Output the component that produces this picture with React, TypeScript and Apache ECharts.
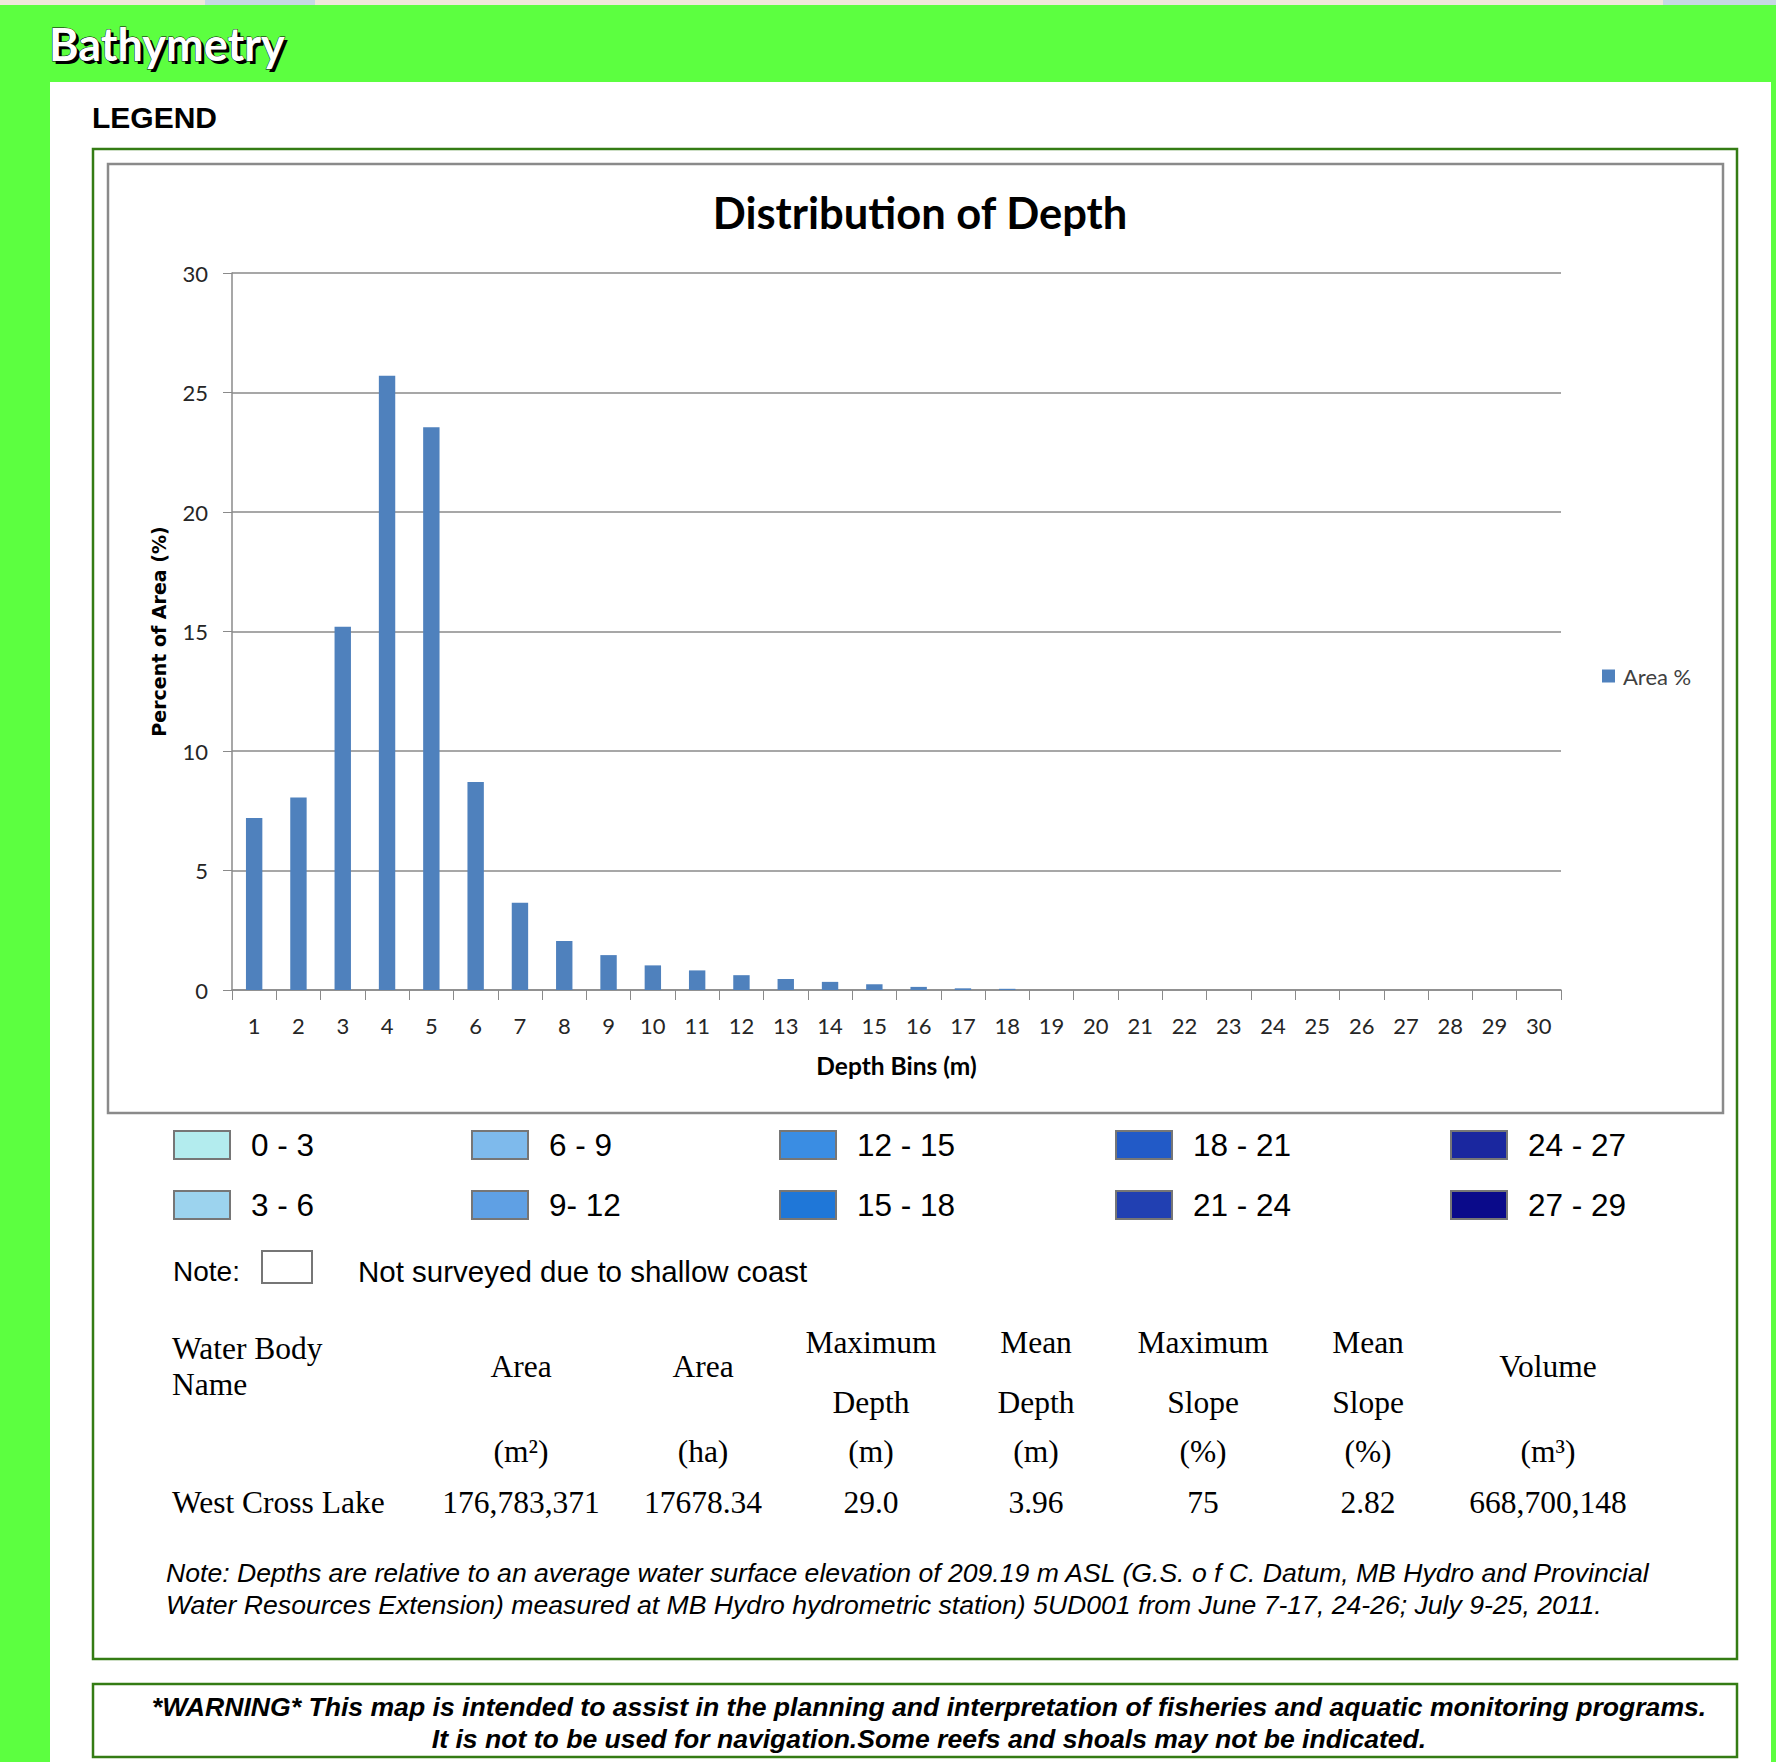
import React, { useEffect, useRef } from "react";
import * as echarts from "echarts";

// ---------- data ----------
const depthBins = ["1","2","3","4","5","6","7","8","9","10","11","12","13","14","15","16","17","18","19","20","21","22","23","24","25","26","27","28","29","30"];
const areaPercent = [7.2, 8.05, 15.2, 25.7, 23.55, 8.7, 3.65, 2.05, 1.46, 1.03, 0.82, 0.62, 0.46, 0.34, 0.24, 0.13, 0.07, 0.05, 0, 0, 0, 0, 0, 0, 0, 0, 0, 0, 0, 0];
const yMin = 0;
const yMax = 30;
const yStep = 5;

const rangeLabels = ["0 - 3", "3 - 6", "6 - 9", "9- 12", "12 - 15", "15 - 18", "18 - 21", "21 - 24", "24 - 27", "27 - 29"];
const rangeColors = ["#b3ecee", "#9cd3ee", "#7ebaec", "#5fa0e4", "#3a8de3", "#1f77d8", "#225ac7", "#2140b2", "#1a279f", "#0a0a8a"];

const tableHeadTop = ["", "", "", "Maximum", "Mean", "Maximum", "Mean", ""];
const tableHeadMid = ["", "Area", "Area", "", "", "", "", "Volume"];
const tableHeadLow = ["", "", "", "Depth", "Depth", "Slope", "Slope", ""];
const tableUnits = ["", "(m²)", "(ha)", "(m)", "(m)", "(%)", "(%)", "(m³)"];
const tableValues = ["West Cross Lake", "176,783,371", "17678.34", "29.0", "3.96", "75", "2.82", "668,700,148"];

const noteLines = [
  "Note: Depths are relative to an average water surface elevation of 209.19 m ASL (G.S. o f C. Datum, MB Hydro and Provincial",
  "Water Resources Extension) measured at MB Hydro hydrometric station) 5UD001 from June 7-17, 24-26; July 9-25, 2011.",
];
const warningLines = [
  "*WARNING* This map is intended to assist in the planning and interpretation of fisheries and aquatic monitoring programs.",
  "It is not to be used for navigation.Some reefs and shoals may not be indicated.",
];

// ---------- styles ----------
const GREEN = "#5cff40";
const DARK_GREEN = "#347c14";
const BAR = "#4f81bd";
const GRID = "#8a8a8a";
const CHART_FONT = "Lato, 'Open Sans', sans-serif";
const ARIAL = "'Liberation Sans', Arial, sans-serif";
const TIMES = "'Liberation Serif', 'Times New Roman', serif";

function txt(text: string, x: number, y: number, extra: any = {}) {
  return {
    type: "text",
    x,
    y,
    silent: true,
    style: {
      text,
      fill: "#000",
      align: "left",
      verticalAlign: "middle",
      ...extra,
    },
  };
}

export default function App() {
  const ref = useRef<HTMLDivElement>(null);

  useEffect(() => {
    document.body.style.margin = "0";
    if (!ref.current) return;
    const chart = echarts.init(ref.current, undefined, { renderer: "svg" });

    const graphics: any[] = [];
    // backgrounds
    graphics.push({ type: "rect", z: -10, silent: true, shape: { x: 0, y: 0, width: 1776, height: 1762 }, style: { fill: GREEN } });
    graphics.push({ type: "rect", z: -10, silent: true, shape: { x: 0, y: 0, width: 1776, height: 5 }, style: { fill: "#efe8da" } });
    graphics.push({ type: "rect", z: -10, silent: true, shape: { x: 205, y: 0, width: 110, height: 5 }, style: { fill: "#c6d8e4" } });
    graphics.push({ type: "rect", z: -10, silent: true, shape: { x: 1663, y: 0, width: 113, height: 5 }, style: { fill: "#c6d8e4" } });
    graphics.push({ type: "rect", z: -10, silent: true, shape: { x: 50, y: 82, width: 1721, height: 1680 }, style: { fill: "#ffffff" } });
    // boxes
    graphics.push({ type: "rect", z: -5, silent: true, shape: { x: 93, y: 149, width: 1644, height: 1510 }, style: { fill: "none", stroke: DARK_GREEN, lineWidth: 2.5 } });
    graphics.push({ type: "rect", z: -5, silent: true, shape: { x: 108, y: 164, width: 1615, height: 949 }, style: { fill: "#fff", stroke: GRID, lineWidth: 2.5 } });
    graphics.push({ type: "rect", z: -5, silent: true, shape: { x: 93, y: 1684, width: 1644, height: 73 }, style: { fill: "none", stroke: DARK_GREEN, lineWidth: 2.5 } });

    // headings
    graphics.push(txt("Bathymetry", 52, 47, { fill: "#000000", font: "bold 45px Lato, sans-serif" }));
    graphics.push(txt("Bathymetry", 49, 44, { fill: "#ffffff", font: "bold 45px Lato, sans-serif", stroke: "#000", lineWidth: 0.8 }));
    graphics.push(txt("LEGEND", 92, 117, { font: "bold 30px " + ARIAL }));

    // depth range legend
    const colX = [174, 472, 780, 1116, 1451];
    const rowY = [1145, 1205];
    rangeLabels.forEach((lab, i) => {
      const c = Math.floor(i / 2);
      const r = i % 2;
      graphics.push({ type: "rect", silent: true, shape: { x: colX[c], y: rowY[r] - 14, width: 56, height: 28 }, style: { fill: rangeColors[i], stroke: "#767676", lineWidth: 2 } });
      graphics.push(txt(lab, colX[c] + 77, rowY[r], { font: "31.5px " + ARIAL }));
    });
    graphics.push(txt("Note:", 173, 1271, { font: "28px " + ARIAL }));
    graphics.push({ type: "rect", silent: true, shape: { x: 262, y: 1251, width: 50, height: 32 }, style: { fill: "#fff", stroke: "#767676", lineWidth: 2 } });
    graphics.push(txt("Not surveyed due to shallow coast", 358, 1271, { font: "29.5px " + ARIAL }));

    // table
    const colC = [172, 521, 703, 871, 1036, 1203, 1368, 1548];
    const tFont = "31.5px " + TIMES;
    graphics.push(txt("Water Body", 172, 1348, { font: tFont }));
    graphics.push(txt("Name", 172, 1384, { font: tFont }));
    for (let i = 1; i < colC.length; i++) {
      if (tableHeadTop[i]) graphics.push(txt(tableHeadTop[i], colC[i], 1342, { font: tFont, align: "center" }));
      if (tableHeadMid[i]) graphics.push(txt(tableHeadMid[i], colC[i], 1366, { font: tFont, align: "center" }));
      if (tableHeadLow[i]) graphics.push(txt(tableHeadLow[i], colC[i], 1402, { font: tFont, align: "center" }));
      if (tableUnits[i]) graphics.push(txt(tableUnits[i], colC[i], 1451, { font: tFont, align: "center" }));
    }
    tableValues.forEach((v, i) => {
      graphics.push(txt(v, colC[i], 1502, { font: tFont, align: i === 0 ? "left" : "center" }));
    });

    // note
    noteLines.forEach((l, i) => {
      graphics.push(txt(l, 166, 1573 + i * 32, { font: "italic 26.6px " + ARIAL }));
    });
    // warning
    warningLines.forEach((l, i) => {
      graphics.push(txt(l, 929, 1707 + i * 32, { font: "italic bold 26.6px " + ARIAL, align: "center" }));
    });

    const option: any = {
      animation: false,
      backgroundColor: "transparent",
      title: {
        text: "Distribution of Depth",
        left: 915,
        top: 207,
        textAlign: "center",
        textVerticalAlign: "middle",
        textStyle: { fontFamily: CHART_FONT, fontWeight: "bold", fontSize: 43.5, color: "#000" },
      },
      legend: {
        data: ["Area %"],
        left: 1597,
        top: 660,
        icon: "rect",
        itemWidth: 13,
        itemHeight: 13,
        textStyle: { fontFamily: CHART_FONT, fontSize: 22, color: "#404040", padding: [0, 0, 0, 3] },
      },
      grid: { left: 232, top: 273, width: 1329, height: 717, containLabel: false },
      xAxis: {
        type: "category",
        data: depthBins,
        boundaryGap: true,
        name: "Depth Bins (m)",
        nameLocation: "middle",
        nameGap: 63,
        nameTextStyle: { fontFamily: CHART_FONT, fontWeight: "bold", fontSize: 24.5, color: "#000" },
        axisLine: { show: true, lineStyle: { color: GRID, width: 1.5 } },
        axisTick: { show: true, length: 10, alignWithLabel: false, lineStyle: { color: GRID } },
        axisLabel: { interval: 0, margin: 24, fontFamily: CHART_FONT, fontSize: 22, color: "#262626" },
        splitLine: { show: false },
      },
      yAxis: {
        type: "value",
        min: yMin,
        max: yMax,
        interval: yStep,
        name: "Percent of Area (%)",
        nameLocation: "middle",
        nameGap: 64,
        nameRotate: 90,
        nameTextStyle: { fontFamily: "'DejaVu Sans', Verdana, sans-serif", fontWeight: "bold", fontSize: 19, color: "#000" },
        axisLine: { show: true, lineStyle: { color: GRID, width: 1.5 } },
        axisTick: { show: true, length: 9, lineStyle: { color: GRID } },
        axisLabel: { margin: 24, fontFamily: CHART_FONT, fontSize: 22, color: "#262626" },
        splitLine: { show: true, lineStyle: { color: GRID, width: 1.5 } },
      },
      series: [
        {
          name: "Area %",
          type: "bar",
          data: areaPercent,
          barWidth: "37%",
          itemStyle: { color: BAR },
        },
      ],
      graphic: { elements: graphics },
    };
    chart.setOption(option);
    return () => chart.dispose();
  }, []);

  return <div ref={ref} style={{ width: 1776, height: 1762 }} />;
}
